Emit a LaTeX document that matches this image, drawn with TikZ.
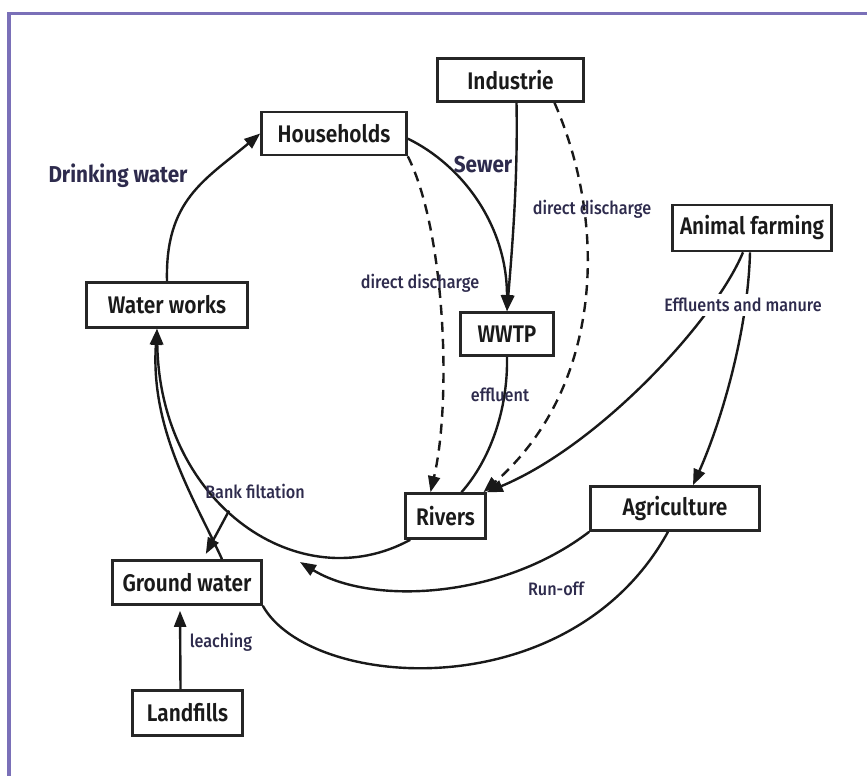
\documentclass[tikz,border=0pt]{standalone}
\usepackage{fontspec}
\setmainfont{Fira Sans}[FakeStretch=0.9]
\newfontfamily\medfont{Fira Sans Medium}[FakeStretch=0.9]
\newfontfamily\semifont{Fira Sans SemiBold}[FakeStretch=0.87]
\usetikzlibrary{arrows.meta}
\definecolor{framecol}{HTML}{7A70B8}
\definecolor{labcol}{HTML}{2E2B4D}
\definecolor{boxtext}{HTML}{1A1A1A}
\tikzset{
  box/.style={draw=black!85, line width=2.6pt, fill=white, inner sep=0pt,
    text=boxtext, font=\semifont\fontsize{24}{28}\selectfont},
  lab/.style={text=labcol, inner sep=1pt, font=\medfont\fontsize{18}{21}\selectfont},
  biglab/.style={text=labcol, inner sep=1pt, font=\bfseries\fontsize{23}{27}\selectfont},
  conn/.style={line width=2.4pt, draw=black!90},
  arr/.style={-{Triangle[length=16pt,width=12pt]}},
  dashline/.style={dash pattern=on 10pt off 7pt},
}
\begin{document}
\begin{tikzpicture}[x=1pt,y=-1pt]
\useasboundingbox (0,0) rectangle (867,776);
\fill[white] (0,0) rectangle (867,776);
\draw[framecol, line width=3.5pt] (9,776) -- (9,13.5) -- (867,13.5);

% nodes
\node[box, minimum width=146pt, minimum height=43pt] (ind) at (510.5,80) {Industrie};
\node[box, minimum width=145pt, minimum height=43pt] (hh) at (334,133.5) {Households};
\node[box, minimum width=159pt, minimum height=46pt] (anim) at (752,228) {Animal farming};
\node[box, minimum width=161pt, minimum height=45pt] (ww) at (167,305) {Water works};
\node[box, minimum width=93pt, minimum height=43pt] (wwtp) at (507,334) {WWTP};
\node[box, minimum width=80pt, minimum height=45pt] (riv) at (445.5,516) {Rivers};
\node[box, minimum width=169pt, minimum height=44pt] (agr) at (675,508.5) {Agriculture};
\node[box, minimum width=149pt, minimum height=44pt] (gw) at (187,582.5) {Ground water};
\node[box, minimum width=110pt, minimum height=45pt] (land) at (187.5,713) {Landfills};
\coordinate (ro) at (300,562);

% connectors
\draw[conn, arr] (ww.north) .. controls (165,200) and (205,180) .. (hh.west);
\draw[conn, arr] (hh.-4) .. controls (462,165) and (507,225) .. (wwtp.north);
\draw[conn, arr] ([xshift=6pt]ind.south) .. controls (518,180) and (512,250) .. (wwtp.north);
\draw[conn, arr, dashline] (hh.south east) .. controls (445,230) and (452,400) .. ([xshift=-15pt]riv.north);
\draw[conn, arr, dashline] ([xshift=44pt]ind.south) .. controls (610,230) and (600,390) .. ([xshift=38pt]riv.north);
\draw[conn] (wwtp.south) .. controls (508,410) and (490,460) .. ([xshift=16pt]riv.north);
\draw[conn, arr] ([xshift=-9pt]anim.south) .. controls (715,320) and (600,445) .. (riv.north east);
\draw[conn, arr] ([xshift=-2pt]anim.south) .. controls (748,330) and (722,420) .. ([xshift=18pt]agr.north);
\draw[conn, arr] ([xshift=6pt]riv.south west) .. controls (300,600) and (160,505) .. coordinate[pos=0.55] (bfp) ([xshift=-10pt]ww.south);
\draw[conn, arr] ([xshift=35pt]gw.north) .. controls (195,500) and (150,430) .. ([xshift=-10pt]ww.south);
\draw[conn, arr, shorten >=6pt] (bfp) -- ([xshift=16pt]gw.north);
\draw[conn, arr] (agr.south west) .. controls (500,600) and (370,605) .. (ro);
\draw[conn] (gw.south east) .. controls (310,690) and (570,710) .. ([xshift=-7pt]agr.south);
\draw[conn, arr, shorten >=5pt] ([xshift=-7pt]land.north) -- ([xshift=-7pt]gw.south);

% labels
\node[biglab] (ldw) at (118,176) {Drinking water};
\node[biglab] (lsew) at (483,165) {Sewer};
\node[lab] (ldd1) at (592,209) {direct discharge};
\node[lab] (ldd2) at (420,283) {direct discharge};
\node[lab, fill=white, inner sep=4pt] (lem) at (743,305) {Effluents and manure};
\node[lab] (leff) at (500,395) {effluent};
\node[lab] (lbank) at (255,491) {Bank filtation};
\node[lab] (lrun) at (556,589) {Run-off};
\node[lab] (lleach) at (221,642) {leaching};
\end{tikzpicture}
\end{document}
